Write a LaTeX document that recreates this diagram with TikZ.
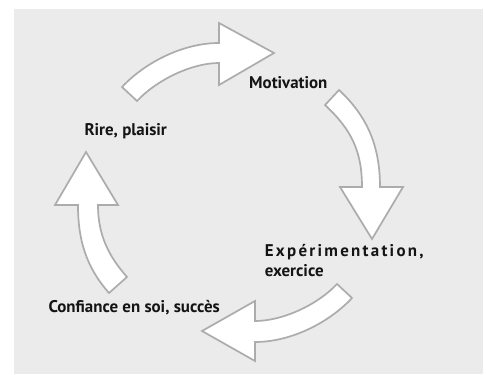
\documentclass[tikz,border=0pt]{standalone}
\usepackage{fontspec}
\setmainfont{PT Sans}
\usepackage{tikz}

\definecolor{bggray}{RGB}{235,235,235}
\definecolor{arrowgray}{RGB}{172,172,172}
\definecolor{textblack}{RGB}{20,20,20}

\begin{document}
\begin{tikzpicture}[x=1pt, y=-1pt,
    cyclearrow/.style={fill=white, draw=arrowgray, line width=1.7pt, line join=miter},
    lbl/.style={anchor=base west, inner sep=0pt, text=textblack, font=\fontsize{16.9}{20}\selectfont\bfseries}]
    \useasboundingbox (0,0) rectangle (486,374);
    \fill[bggray] (14,9) rectangle (483,374);
    % top arrow
    \draw[cyclearrow] (137,101) -- (122,87) .. controls (146,61.5) and (184,43) .. (219,43)
        -- (219,23) -- (274,53) -- (219,85) -- (219,63)
        .. controls (191,63) and (156,80.6) .. (137,101) -- cycle;
    % right arrow
    \draw[cyclearrow] (325,105) -- (339,90) .. controls (368,117) and (380,147) .. (380,187)
        -- (403,187) -- (372,239) -- (340,187) -- (362,187)
        .. controls (362,150) and (350.5,128.8) .. (325,105) -- cycle;
    % bottom arrow
    \draw[cyclearrow] (337,284) -- (352,298) .. controls (328,323.6) and (290,342) .. (255,342)
        -- (255,361) -- (202,331) -- (255,301) -- (255,321)
        .. controls (283,321) and (318,304.4) .. (337,284) -- cycle;
    % left arrow
    \draw[cyclearrow] (127,277) -- (109,293) .. controls (86,266.8) and (78,240) .. (78,205)
        -- (55,205) -- (86,152) -- (118,205) -- (98,205)
        .. controls (98,235) and (108.5,256) .. (127,277) -- cycle;
    % labels
    \node[lbl] (motiv) at (249,88.3) {Motivation};
    \node[lbl] (rire) at (84.3,135.7) {Rire, plaisir};
    \node[lbl] (expe) at (264.7,256.7) {\addfontfeature{LetterSpace=13.5}Expérimentation,};
    \node[lbl] (exer) at (264.7,276.7) {exercice};
    \node[lbl] (conf) at (48.3,312) {Confiance en soi, succès};
\end{tikzpicture}
\end{document}
